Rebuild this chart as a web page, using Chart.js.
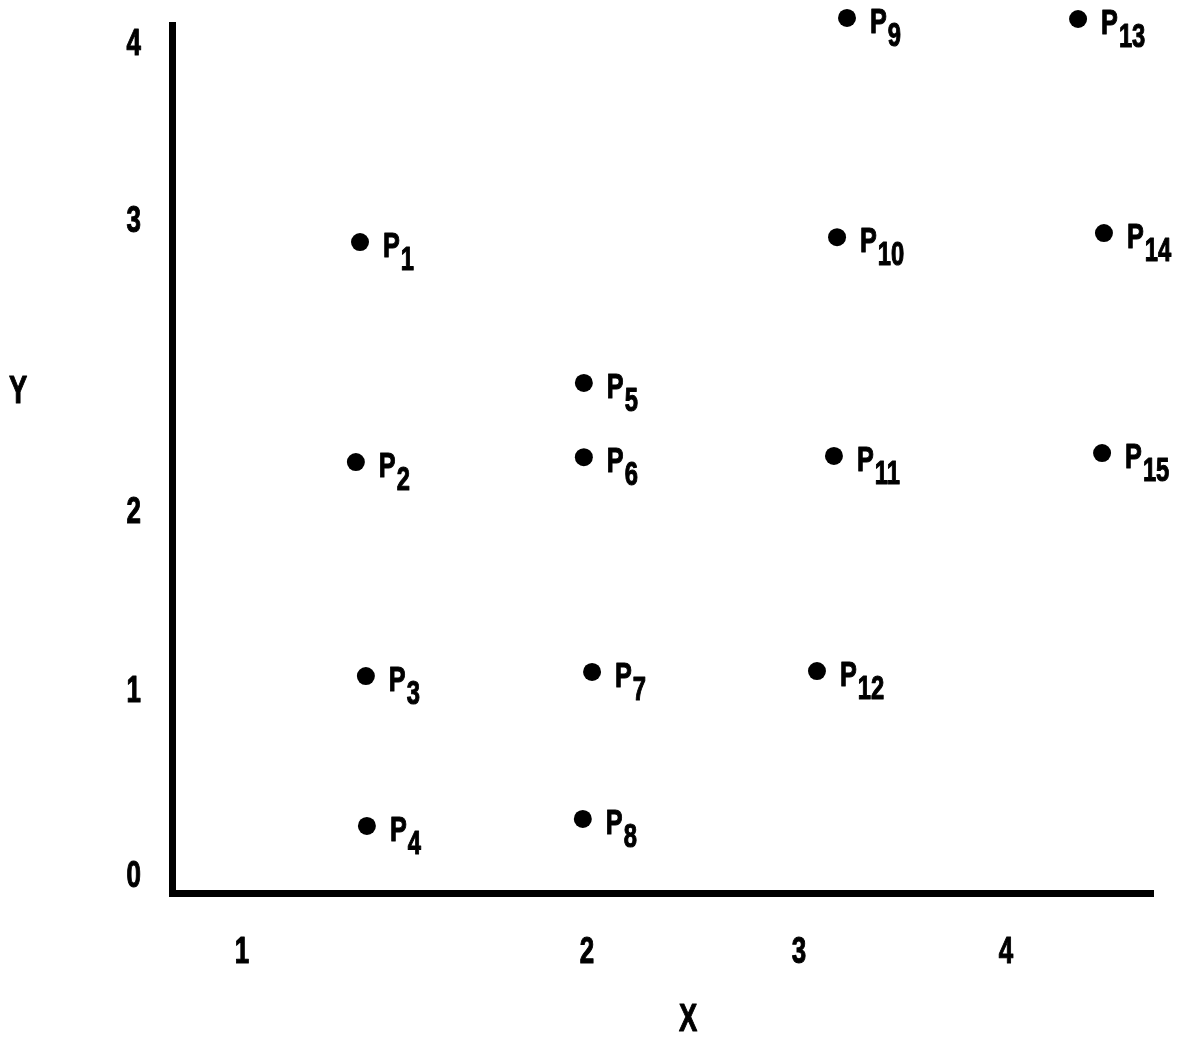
<!DOCTYPE html>
<html>
<head>
<meta charset="utf-8">
<script src="https://cdn.jsdelivr.net/npm/chart.js@4.4.1/dist/chart.umd.min.js"></script>
<style>
html,body{margin:0;padding:0;background:#fff;}
#wrap{width:1182px;height:1037px;position:relative;}
</style>
</head>
<body>
<div id="wrap"><canvas id="c"></canvas></div>
<script>
// ---- data (axis units as labelled) ----
const pointNames = ['1','2','3','4','5','6','7','8','9','10','11','12','13','14','15'];
const xValues = [1.342, 1.330, 1.359, 1.362, 1.991, 1.991, 2.024, 1.988, 3.232, 3.184, 3.169, 3.087, 4.348, 4.473, 4.464];
const yValues = [2.931, 2.175, 1.089, 0.276, 2.447, 2.192, 1.112, 0.314, 4.153, 2.948, 2.196, 1.117, 4.147, 2.962, 2.206];
const xTickValues = [1, 2, 3, 4];
const xTickLabels = ['1', '2', '3', '4'];
const yTickValues = [0, 1, 2, 3, 4];
const yTickLabels = ['0', '1', '2', '3', '4'];
const xAxisTitle = 'X';
const yAxisTitle = 'Y';

const FONT = "'Liberation Sans', Arial, sans-serif";
const CONDENSE = 0.72;   // horizontal squeeze to imitate the condensed gothic type
const HEAVY = 1.1;       // extra stroke to imitate the heavy print

// The figure's tick marks are unevenly spaced: a piecewise-linear scale reproduces them.
class PiecewiseLinearScale extends Chart.LinearScale {
  _seg(list, key, val) {
    let i = 0;
    while (i < list.length - 2 && val > list[i + 1][key]) i++;
    return [list[i], list[i + 1]];
  }
  getPixelForValue(value) {
    const b = this.options.breaks;
    const [p0, p1] = this._seg(b, 0, value);
    const f = p0[1] + (value - p0[0]) * (p1[1] - p0[1]) / (p1[0] - p0[0]);
    return this.getPixelForDecimal(f);
  }
  getValueForPixel(pixel) {
    const b = this.options.breaks;
    const f = this.getDecimalForPixel(pixel);
    const [p0, p1] = this._seg(b, 1, f);
    return p0[0] + (f - p0[1]) * (p1[0] - p0[0]) / (p1[1] - p0[1]);
  }
  drawLabels(chartArea) {
    if (!this.options.ticks.display) return;
    const ctx = this.ctx;
    const items = this.getLabelItems(chartArea);
    for (const item of items) {
      const o = item.options;
      ctx.save();
      ctx.translate(o.translation[0], o.translation[1]);
      ctx.scale(CONDENSE, 1);
      ctx.font = item.font.string;
      ctx.fillStyle = o.color;
      ctx.strokeStyle = o.color;
      ctx.lineWidth = HEAVY;
      ctx.lineJoin = 'round';
      ctx.textAlign = o.textAlign;
      ctx.textBaseline = o.textBaseline;
      const lbl = Array.isArray(item.label) ? item.label : [item.label];
      lbl.forEach((t, k) => {
        const yy = item.textOffset + k * item.font.lineHeight;
        ctx.fillText(t, 0, yy);
        ctx.strokeText(t, 0, yy);
      });
      ctx.restore();
    }
  }
}
PiecewiseLinearScale.id = 'piecewiseLinear';
PiecewiseLinearScale.defaults = Chart.LinearScale.defaults;
Chart.register(PiecewiseLinearScale);

function condensedText(ctx, text, x, y, font) {
  ctx.save();
  ctx.font = font;
  ctx.translate(x, y);
  ctx.scale(CONDENSE, 1);
  ctx.lineWidth = HEAVY;
  ctx.lineJoin = 'round';
  ctx.fillText(text, 0, 0);
  ctx.strokeText(text, 0, 0);
  const w = ctx.measureText(text).width * CONDENSE;
  ctx.restore();
  return w;
}

const pointLabels = {
  id: 'pointLabels',
  afterDatasetsDraw(chart) {
    const ctx = chart.ctx;
    const meta = chart.getDatasetMeta(0);
    ctx.save();
    ctx.fillStyle = '#000';
    ctx.strokeStyle = '#000';
    ctx.textAlign = 'left';
    ctx.textBaseline = 'alphabetic';
    meta.data.forEach((pt, i) => {
      const x = pt.x + 23;
      const w = condensedText(ctx, 'P', x, pt.y + 15, 'bold 35px ' + FONT);
      condensedText(ctx, pointNames[i], x + w + 1, pt.y + 28, 'bold 33px ' + FONT);
    });
    ctx.restore();
  }
};

const axisTitles = {
  id: 'axisTitles',
  afterDraw(chart) {
    const ctx = chart.ctx;
    const a = chart.chartArea;
    ctx.save();
    ctx.fillStyle = '#000';
    ctx.strokeStyle = '#000';
    ctx.textAlign = 'center';
    ctx.textBaseline = 'middle';
    condensedText(ctx, yAxisTitle, 18, a.top + 368, 'bold 38px ' + FONT);
    condensedText(ctx, xAxisTitle, a.left + 516, a.bottom + 128, 'bold 38px ' + FONT);
    ctx.restore();
  }
};

new Chart(document.getElementById('c'), {
  type: 'scatter',
  data: {
    datasets: [{
      data: xValues.map((x, i) => ({ x: x, y: yValues[i] })),
      pointRadius: 9,
      pointHoverRadius: 9,
      backgroundColor: '#000',
      borderWidth: 0,
      clip: false
    }]
  },
  options: {
    responsive: true,
    maintainAspectRatio: false,
    animation: false,
    events: [],
    layout: { padding: { left: 0, right: 29, top: 25, bottom: 0 } },
    plugins: { legend: { display: false }, tooltip: { enabled: false } },
    scales: {
      x: {
        type: 'piecewiseLinear',
        position: 'bottom',
        min: 0.797,
        max: 4.710,
        breaks: [[0.797, 0], [1, 0.0714], [2, 0.4230], [3, 0.6391], [4, 0.8502], [4.710, 1]],
        afterBuildTicks: (s) => { s.ticks = xTickValues.map(v => ({ value: v })); },
        afterFit: (s) => { s.height = 144; s.paddingLeft = 0; s.paddingRight = 0; },
        grid: { display: false, drawTicks: false },
        border: { display: true, color: '#000', width: 7 },
        ticks: {
          color: '#000',
          padding: 38,
          maxRotation: 0,
          autoSkip: false,
          font: { family: FONT, size: 36, weight: 'bold' },
          callback: (v, i) => xTickLabels[i]
        }
      },
      y: {
        type: 'piecewiseLinear',
        position: 'left',
        min: -0.0864,
        max: 4.113,
        breaks: [[-0.0864, 0], [0, 0.0184], [1, 0.2316], [2, 0.4378], [3, 0.7730], [4, 0.9770], [4.113, 1]],
        afterBuildTicks: (s) => { s.ticks = yTickValues.map(v => ({ value: v })); },
        afterFit: (s) => { s.width = 172; s.paddingTop = 0; s.paddingBottom = 0; },
        grid: { display: false, drawTicks: false },
        border: { display: true, color: '#000', width: 7 },
        ticks: {
          color: '#000',
          padding: 31,
          autoSkip: false,
          font: { family: FONT, size: 36, weight: 'bold' },
          callback: (v, i) => yTickLabels[i]
        }
      }
    }
  },
  plugins: [pointLabels, axisTitles]
});
</script>
</body>
</html>
